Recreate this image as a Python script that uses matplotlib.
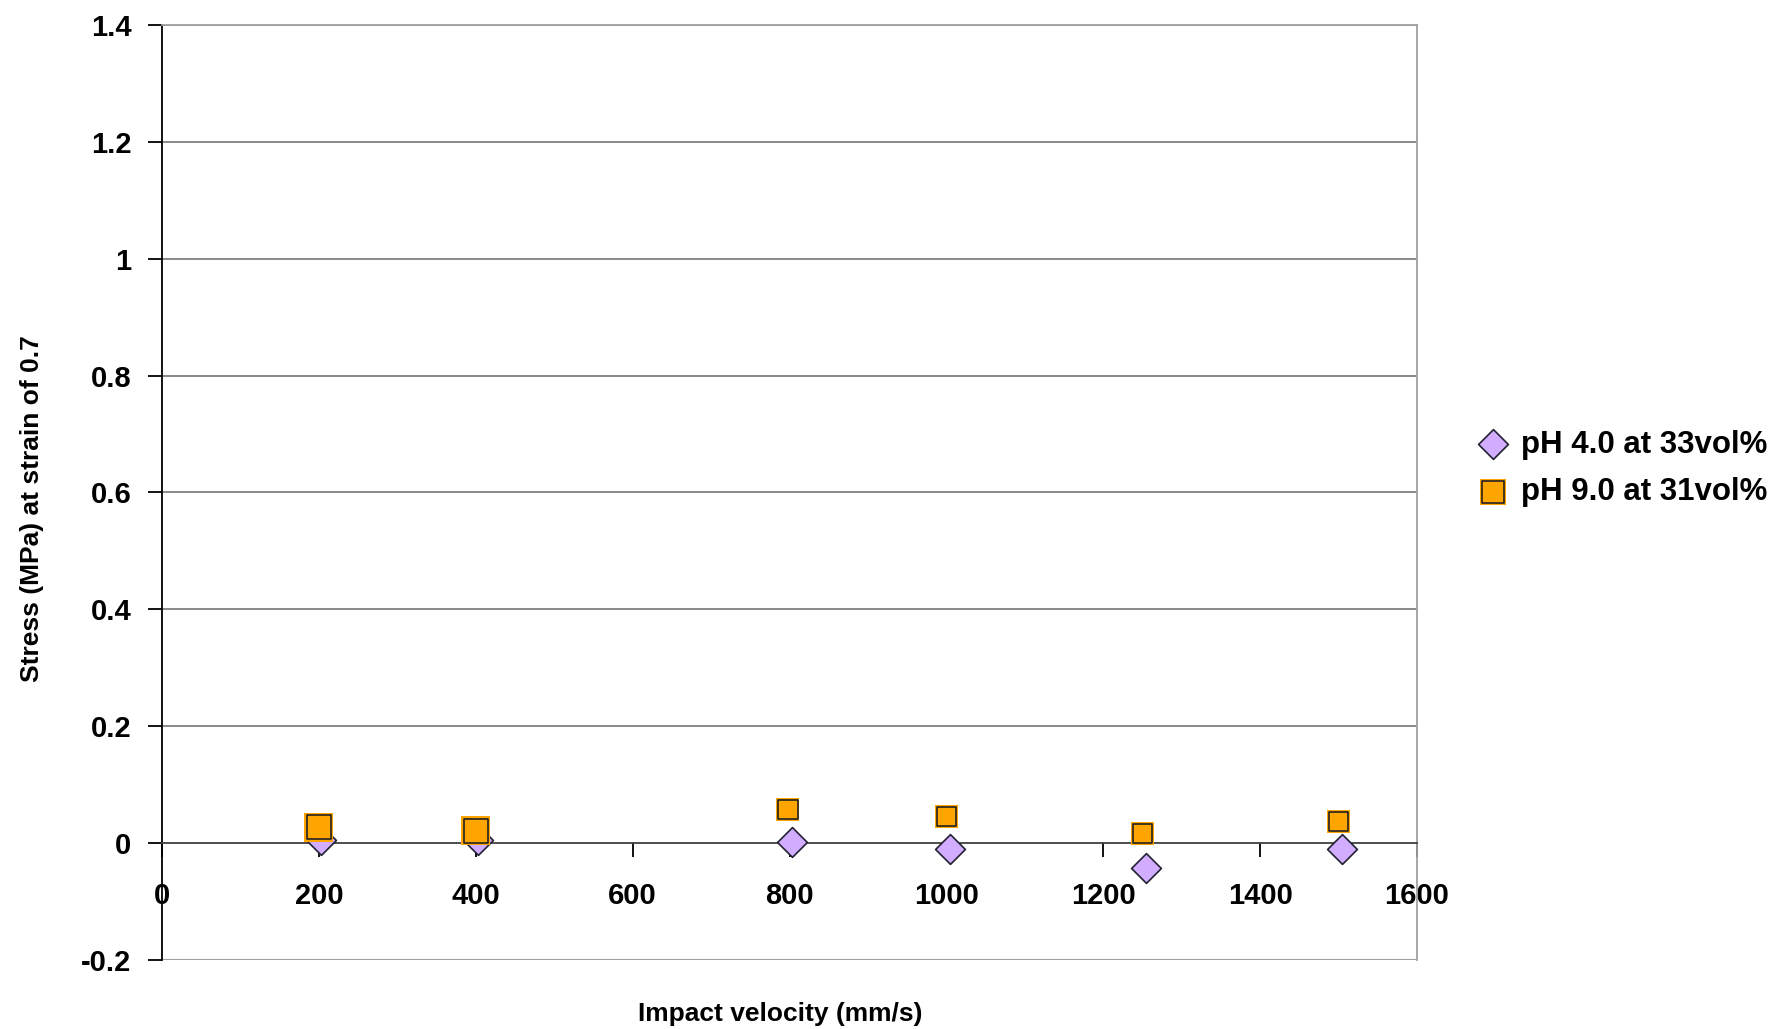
import matplotlib.pyplot as plt
from matplotlib.legend_handler import HandlerTuple

plt.rcParams['font.family'] = ['Liberation Sans', 'DejaVu Sans']
plt.rcParams['font.weight'] = 'bold'

# pH 4.0 at 33vol% (diamonds)
v_ph4 = [203, 403, 803, 1005, 1255, 1505]
s_ph4 = [0.006, 0.006, 0.002, -0.010, -0.043, -0.010]

# pH 9.0 at 31vol% (squares)
v_ph9 = [200, 400, 798, 1000, 1250, 1500]
s_ph9 = [0.027, 0.021, 0.058, 0.045, 0.017, 0.037]
sq_size = [300, 300, 190, 190, 190, 190]

xticks = [0, 200, 400, 600, 800, 1000, 1200, 1400, 1600]
yticks = [-0.2, 0, 0.2, 0.4, 0.6, 0.8, 1, 1.2, 1.4]
ylabels = ['-0.2', '0', '0.2', '0.4', '0.6', '0.8', '1', '1.2', '1.4']

fig = plt.figure(figsize=(17.85, 10.29), dpi=100)
ax = fig.add_axes([0.0908, 0.0671, 0.7030, 0.9086])

ax.set_xlim(0, 1600)
ax.set_ylim(-0.2, 1.4)
ax.set_yticks(yticks)
ax.set_yticklabels(ylabels)
ax.set_xticks(xticks)
ax.set_xticklabels([str(t) for t in xticks])

# gridlines
for y in yticks[2:]:
    ax.axhline(y, color='#808080', lw=1.3, zorder=1)
ax.axhline(-0.2, color='#a0a0a0', lw=1.5, zorder=1)

# x axis sits on zero
ax.spines['bottom'].set_position(('data', 0))
ax.spines['bottom'].set_color('#404040')
ax.spines['bottom'].set_linewidth(1.3)
ax.spines['left'].set_color('black')
ax.spines['left'].set_linewidth(1.3)
ax.spines['top'].set_color('#a0a0a0')
ax.spines['right'].set_color('#a0a0a0')
ax.spines['top'].set_linewidth(1.3)
ax.spines['right'].set_linewidth(1.3)

ax.tick_params(axis='y', direction='out', length=10, width=1.3, labelsize=21, pad=12)
ax.tick_params(axis='x', direction='out', length=10, width=1.3, labelsize=21, pad=18)

d = ax.scatter(v_ph4, s_ph4, marker='D', s=230, facecolor='#d2acff',
               edgecolor='#222233', linewidth=1.2, zorder=3, clip_on=False)
o = ax.scatter(v_ph9, s_ph9, marker='s', s=[z * 1.45 for z in sq_size],
               facecolor='#ffa500', edgecolor='#ffa500', linewidth=0, zorder=4)
q = ax.scatter(v_ph9, s_ph9, marker='s', s=sq_size, facecolor='#ffa500',
               edgecolor='#222222', linewidth=1.2, zorder=5)

ax.set_xlabel('Impact velocity (mm/s)', fontsize=19, fontweight='bold')
ax.xaxis.set_label_coords(0.493, -0.045)
ax.set_ylabel('Stress (MPa) at strain of 0.7', fontsize=19, fontweight='bold')
ax.yaxis.set_label_coords(-0.094, 0.483)

leg = fig.legend([d, (o, q)], ['pH 4.0 at 33vol%', 'pH 9.0 at 31vol%'],
                 handler_map={tuple: HandlerTuple(ndivide=1, pad=0)},
                 loc='center left', bbox_to_anchor=(0.812, 0.545), frameon=False,
                 fontsize=22.5, handletextpad=0.4, labelspacing=0.55,
                 handlelength=1.0, scatterpoints=1)

fig.savefig('out.png', dpi=100)
